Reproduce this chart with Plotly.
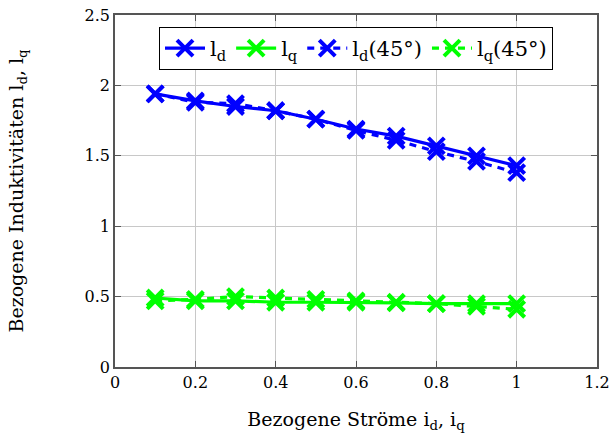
import plotly.graph_objects as go

currents = [0.1, 0.2, 0.3, 0.4, 0.5, 0.6, 0.7, 0.8, 0.9, 1.0]
ld = [1.94, 1.89, 1.85, 1.82, 1.76, 1.69, 1.64, 1.57, 1.50, 1.43]
lq = [0.49, 0.47, 0.47, 0.46, 0.46, 0.46, 0.455, 0.45, 0.45, 0.45]
ld_45 = [1.94, 1.88, 1.87, 1.82, 1.76, 1.68, 1.61, 1.53, 1.46, 1.38]
lq_45 = [0.47, 0.48, 0.50, 0.49, 0.48, 0.47, 0.46, 0.45, 0.43, 0.41]

x_ticks = [0, 0.2, 0.4, 0.6, 0.8, 1, 1.2]
y_ticks = [0, 0.5, 1, 1.5, 2, 2.5]

BLUE = "#0000ff"
GREEN = "#00ff00"
FONT = "DejaVu Serif"

fig = go.Figure()
series = [
    ("l<sub>d</sub>", ld, BLUE, "solid"),
    ("l<sub>q</sub>", lq, GREEN, "solid"),
    ("l<sub>d</sub>(45°)", ld_45, BLUE, "7px,6px"),
    ("l<sub>q</sub>(45°)", lq_45, GREEN, "7px,6px"),
]
for name, ys, color, dash in series:
    fig.add_trace(go.Scatter(
        x=currents, y=ys, name=name, mode="lines+markers",
        line=dict(color=color, width=3.2, dash=dash),
        marker=dict(symbol="x-thin", size=16, line=dict(color=color, width=4), color=color),
    ))

axis_common = dict(
    showline=True, linecolor="#555555", linewidth=1.5, mirror="ticks",
    ticks="inside", ticklen=6, tickcolor="#555555",
    showgrid=True, gridcolor="#c8c8c8", gridwidth=1, zeroline=False,
    automargin=False, ticklabeloverflow="allow",
    tickfont=dict(family=FONT, size=16, color="black"),
)

fig.update_layout(
    width=609, height=439,
    margin=dict(l=115, r=12, t=15, b=72),
    paper_bgcolor="white", plot_bgcolor="white",
    font=dict(family=FONT, size=16, color="black"),
    xaxis=dict(range=[0, 1.2], tickvals=x_ticks, ticktext=[f"{v:g}" for v in x_ticks],
               title=dict(text="Bezogene Ströme i<sub>d</sub>, i<sub>q</sub>", standoff=22,
                          font=dict(family=FONT, size=19)),
               **axis_common),
    yaxis=dict(range=[0, 2.5], tickvals=y_ticks, ticktext=[f"{v:g}" for v in y_ticks],
               title=dict(text="Bezogene Induktivitäten l<sub>d</sub>, l<sub>q</sub>", standoff=56,
                          font=dict(family=FONT, size=19)),
               **axis_common),
    legend=dict(orientation="h", x=0.5, xanchor="center", y=0.966, yanchor="top",
                bordercolor="black", borderwidth=1, bgcolor="white",
                font=dict(family=FONT, size=21), itemwidth=40),
)

fig.write_html("out.html", config={"displayModeBar": False},
               post_script="document.body.style.margin='0';")
